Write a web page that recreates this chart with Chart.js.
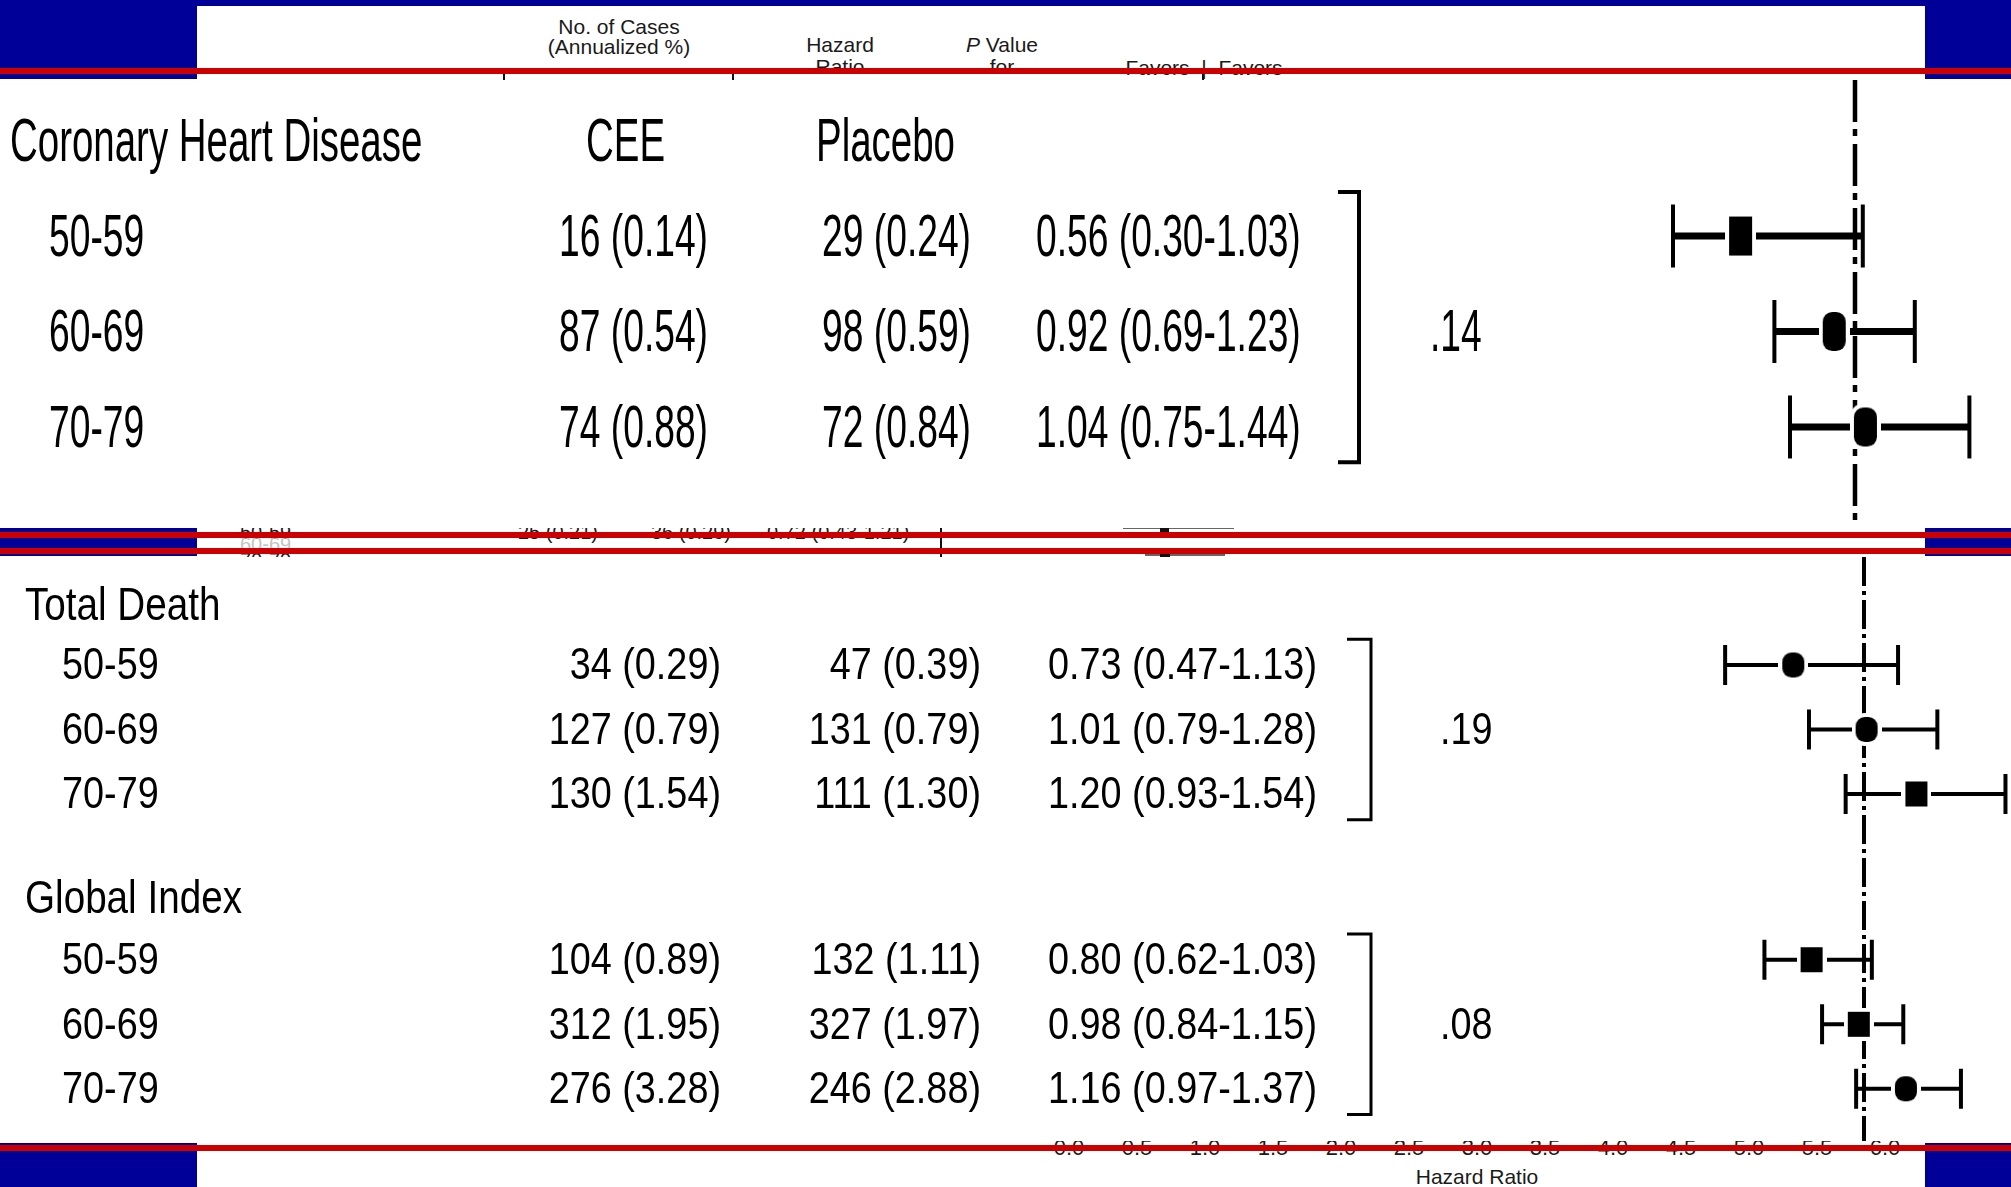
<!DOCTYPE html>
<html>
<head>
<meta charset="utf-8">
<title>Outcomes by Age Group: CEE vs Placebo</title>
<script src="https://cdn.jsdelivr.net/npm/chart.js@4.4.1/dist/chart.umd.min.js"></script>
<style>
  html, body { margin: 0; padding: 0; background: #fff; }
  #page { position: relative; width: 2011px; height: 1187px; overflow: hidden; background: #fff;
          font-family: "Liberation Sans", Arial, sans-serif; }
  .t { position: absolute; white-space: nowrap; line-height: 1; color: #1a1a1a; font-size: 21px; }
  .c { transform: translate(-50%, -50%); }
  .l { transform: translate(0, -50%); }
  .r { transform: translate(-100%, -50%); }
  .g { color: #c4c4c4; }
  .mark { position: absolute; background: #111; }
  canvas { position: absolute; left: 0; background: #fff; }
  .blk { position: absolute; background: #000099; }
  .red { position: absolute; left: 0; width: 2011px; height: 6px; background: #cc0000; }
</style>
</head>
<body>
<div id="page">
  <!-- column headings of the underlying table -->
  <div class="t c" style="left:619px;top:26px">No. of Cases</div>
  <div class="t c" style="left:619px;top:46px">(Annualized %)</div>
  <div class="t c" style="left:840px;top:44px">Hazard</div>
  <div class="t c" style="left:840px;top:66px">Ratio</div>
  <div class="t c" style="left:1002px;top:44px"><i>P</i> Value</div>
  <div class="t c" style="left:1002px;top:66px">for</div>
  <div class="t c" style="left:1204px;top:67px">Favors&nbsp; |&nbsp; Favors</div>
  <div class="t l g" style="left:224px;top:87px">Age Group, y</div>
  <div class="t c g" style="left:840px;top:87px">(95% CI)</div>
  <div class="t c g" style="left:1002px;top:87px">Interaction</div>
  <div class="t c g" style="left:1204px;top:87px">Estrogen&nbsp; |&nbsp; Placebo</div>
  <div class="mark" style="left:503px;top:74px;width:2px;height:7px"></div>
  <div class="mark" style="left:732px;top:74px;width:2px;height:7px"></div>
  <div class="mark" style="left:1202px;top:74px;width:2px;height:7px"></div>

  <!-- rows of the underlying table seen between the panels -->
  <div class="t l" style="left:240px;top:532px;font-size:20px">50-59</div>
  <div class="t r" style="left:598px;top:532px;font-size:20px">25 (0.21)</div>
  <div class="t r" style="left:731px;top:532px;font-size:20px">36 (0.29)</div>
  <div class="t l" style="left:767px;top:532px;font-size:20px">0.72 (0.43-1.21)</div>
  <div class="t l g" style="left:240px;top:544px;font-size:20px">60-69</div>
  <div class="t l" style="left:240px;top:560px;font-size:20px">70-79</div>
  <div class="mark" style="left:940px;top:526px;width:2px;height:31px"></div>
  <div class="mark" style="left:1123px;top:527px;width:111px;height:2px;background:#666"></div>
  <div class="mark" style="left:1160px;top:527px;width:9px;height:6px"></div>
  <div class="mark" style="left:1145px;top:554px;width:80px;height:2px;background:#666"></div>
  <div class="mark" style="left:1160px;top:554px;width:10px;height:4px"></div>

  <div class="t c" style="left:1477px;top:1176px;font-size:21px">Hazard Ratio</div>

  <canvas id="chdChart" width="2011" height="448" style="top:80px"></canvas>
  <canvas id="ageChart" width="2011" height="584" style="top:557px"></canvas>

  <!-- slide frame -->
  <div class="blk" style="left:0;top:0;width:2011px;height:6px"></div>
  <div class="blk" style="left:0;top:0;width:197px;height:79px"></div>
  <div class="blk" style="left:1925px;top:0;width:86px;height:79px"></div>
  <div class="red" style="top:68px"></div>
  <div class="blk" style="left:0;top:528px;width:197px;height:28px"></div>
  <div class="blk" style="left:1925px;top:528px;width:86px;height:28px"></div>
  <div class="red" style="top:532px"></div>
  <div class="red" style="top:548px"></div>
  <div class="blk" style="left:0;top:1143px;width:197px;height:44px"></div>
  <div class="blk" style="left:1925px;top:1143px;width:86px;height:44px"></div>
  <div class="red" style="top:1145px"></div>
</div>

<script>
// ---- data ----
const ageGroups = ['50-59', '60-69', '70-79'];

// Coronary heart disease
const chdCeeCases = [16, 87, 74];
const chdCeeRate = [0.14, 0.54, 0.88];
const chdPlaceboCases = [29, 98, 72];
const chdPlaceboRate = [0.24, 0.59, 0.84];
const chdHR = [0.56, 0.92, 1.04];
const chdLow = [0.30, 0.69, 0.75];
const chdHigh = [1.03, 1.23, 1.44];
const chdP = '.14';

// Total death
const deathCeeCases = [34, 127, 130];
const deathCeeRate = [0.29, 0.79, 1.54];
const deathPlaceboCases = [47, 131, 111];
const deathPlaceboRate = [0.39, 0.79, 1.30];
const deathHR = [0.73, 1.01, 1.20];
const deathLow = [0.47, 0.79, 0.93];
const deathHigh = [1.13, 1.28, 1.54];
const deathP = '.19';

// Global index
const globalCeeCases = [104, 312, 276];
const globalCeeRate = [0.89, 1.95, 3.28];
const globalPlaceboCases = [132, 327, 246];
const globalPlaceboRate = [1.11, 1.97, 2.88];
const globalHR = [0.80, 0.98, 1.16];
const globalLow = [0.62, 0.84, 0.97];
const globalHigh = [1.03, 1.15, 1.37];
const globalP = '.08';

// tick labels of the small hazard-ratio axis along the bottom edge
const hazardTicks = ['0.0', '0.5', '1.0', '1.5', '2.0', '2.5', '3.0', '3.5', '4.0', '4.5', '5.0', '5.5', '6.0'];

// ---- helpers ----
const FONT = '"Liberation Sans", Arial, sans-serif';

function putText(ctx, str, x, y, size, sx, align) {
  ctx.save();
  ctx.font = size + 'px ' + FONT;
  ctx.textAlign = align;
  ctx.textBaseline = 'middle';
  ctx.fillStyle = '#000';
  ctx.translate(x, y);
  ctx.scale(sx, 1);
  ctx.fillText(str, 0, 0);
  ctx.restore();
}

// point estimate marker with a white halo that opens a gap in the CI line
function markerImage(w, h, shape, pad) {
  const c = document.createElement('canvas');
  c.width = w + 2 * pad;
  c.height = h + 2 * pad;
  const g = c.getContext('2d');
  const r = shape === 'round' ? Math.min(w, h) * 0.42 : 0;
  g.fillStyle = '#fff';
  g.beginPath();
  g.roundRect(0, 0, c.width, c.height, r ? r + pad : 0);
  g.fill();
  g.fillStyle = '#000';
  g.beginPath();
  g.roundRect(pad, pad, w, h, r);
  g.fill();
  return c;
}

function tablePlugin(panel) {
  return {
    id: 'tableText',
    afterDraw(chart) {
      const ctx = chart.ctx;
      const ys = chart.scales.y;
      const c = panel.cols;
      const dy = panel.textDy;
      panel.groups.forEach(g => {
        const ty = ys.getPixelForValue(g.titleRow) + dy;
        putText(ctx, g.title, c.title, ty, panel.titleSize, panel.sx, 'left');
        if (g.heads) {
          putText(ctx, 'CEE', c.headCee, ty, panel.titleSize, panel.sx, 'left');
          putText(ctx, 'Placebo', c.headPlacebo, ty, panel.titleSize, panel.sx, 'left');
        }
        g.rows.forEach((row, i) => {
          const y = ys.getPixelForValue(row) + dy;
          putText(ctx, ageGroups[i], c.age, y, panel.rowSize, panel.sx, 'left');
          putText(ctx, g.ceeCases[i] + ' (' + g.ceeRate[i].toFixed(2) + ')', c.cee, y, panel.rowSize, panel.sx, 'right');
          putText(ctx, g.placeboCases[i] + ' (' + g.placeboRate[i].toFixed(2) + ')', c.placebo, y, panel.rowSize, panel.sx, 'right');
          putText(ctx, g.hr[i].toFixed(2) + ' (' + g.low[i].toFixed(2) + '-' + g.high[i].toFixed(2) + ')',
                  c.hr, y, panel.rowSize, panel.sx, 'left');
        });
        // bracket joining the three age groups, with the interaction P value
        const yT = ys.getPixelForValue(g.rows[0] - panel.bracketPad[0]);
        const yB = ys.getPixelForValue(g.rows[g.rows.length - 1] + panel.bracketPad[1]);
        ctx.save();
        ctx.strokeStyle = '#000';
        ctx.lineWidth = panel.bracketWidth;
        ctx.lineJoin = 'miter';
        ctx.beginPath();
        ctx.moveTo(c.bracketL, yT);
        ctx.lineTo(c.bracketX, yT);
        ctx.lineTo(c.bracketX, yB);
        ctx.lineTo(c.bracketL, yB);
        ctx.stroke();
        ctx.restore();
        putText(ctx, g.p, c.p, ys.getPixelForValue(g.rows[1]) + dy, panel.rowSize, panel.sx, 'left');
      });
    }
  };
}

function buildPanel(canvasId, panel) {
  const datasets = [];
  // no-effect line at hazard ratio 1
  datasets.push({
    data: [{ x: 1, y: panel.yMin }, { x: 1, y: panel.yMax }],
    showLine: true, borderColor: '#000', borderWidth: panel.refWidth,
    borderDash: panel.refDash, pointRadius: 0, order: 3
  });
  // confidence intervals with end caps
  panel.groups.forEach(g => g.rows.forEach((row, i) => {
    datasets.push({
      data: [{ x: g.low[i], y: row }, { x: g.high[i], y: row }],
      showLine: true, borderColor: '#000', borderWidth: panel.barWidth,
      pointStyle: 'line', pointRotation: 90, pointRadius: panel.capHalf,
      pointBorderWidth: panel.capWidth, pointBorderColor: '#000', pointBackgroundColor: '#000',
      order: 2
    });
  }));
  // point estimates
  const pts = [], styles = [];
  panel.groups.forEach(g => g.rows.forEach((row, i) => {
    pts.push({ x: g.hr[i], y: row });
    styles.push(markerImage(panel.markerW, panel.markerH, g.shapes[i], 4));
  }));
  datasets.push({ data: pts, showLine: false, pointStyle: styles, pointRadius: 12, order: 1 });

  return new Chart(document.getElementById(canvasId), {
    type: 'scatter',
    data: { datasets },
    options: {
      responsive: false,
      animation: false,
      devicePixelRatio: 1,
      events: [],
      layout: { padding: 0, autoPadding: false },
      scales: {
        x: { type: 'linear', min: panel.xMin, max: panel.xMax, display: false },
        y: { type: 'linear', min: panel.yMin, max: panel.yMax, reverse: true, display: false }
      },
      plugins: { legend: { display: false }, tooltip: { enabled: false } }
    },
    plugins: [tablePlugin(panel)]
  });
}

// ---- enlarged coronary heart disease panel ----
buildPanel('chdChart', {
  xMin: -6.1346, xMax: 1.6, yMin: -1.634, yMax: 3.058,
  refWidth: 4.5, refDash: [42, 7, 7, 8],
  barWidth: 7, capWidth: 4, capHalf: 31.5,
  markerW: 23, markerH: 39,
  titleSize: 62, rowSize: 60, sx: 0.62, textDy: 3,
  bracketPad: [0.46, 0.37], bracketWidth: 4,
  cols: { title: 10, headCee: 586, headPlacebo: 816, age: 49, cee: 708, placebo: 971, hr: 1036, p: 1430, bracketL: 1338, bracketX: 1359 },
  groups: [{
    title: 'Coronary Heart Disease', titleRow: -1, heads: true, rows: [0, 1, 2],
    ceeCases: chdCeeCases, ceeRate: chdCeeRate, placeboCases: chdPlaceboCases, placeboRate: chdPlaceboRate,
    hr: chdHR, low: chdLow, high: chdHigh, p: chdP, shapes: ['square', 'round', 'round']
  }]
});

// ---- total death and global index panel ----
buildPanel('ageChart', {
  xMin: -6.1145, xMax: 1.5611, yMin: -0.674, yMax: 8.38,
  refWidth: 4, refDash: [29, 5, 4, 5],
  barWidth: 4, capWidth: 4, capHalf: 20,
  markerW: 22, markerH: 25,
  titleSize: 46, rowSize: 45, sx: 0.84, textDy: 2,
  bracketPad: [0.4, 0.4], bracketWidth: 3,
  cols: { title: 25, age: 62, cee: 721, placebo: 981, hr: 1048, p: 1440, bracketL: 1347, bracketX: 1371 },
  groups: [{
    title: 'Total Death', titleRow: 0.08, rows: [1, 2, 3],
    ceeCases: deathCeeCases, ceeRate: deathCeeRate, placeboCases: deathPlaceboCases, placeboRate: deathPlaceboRate,
    hr: deathHR, low: deathLow, high: deathHigh, p: deathP, shapes: ['round', 'round', 'square']
  }, {
    title: 'Global Index', titleRow: 4.62, rows: [5.57, 6.57, 7.57],
    ceeCases: globalCeeCases, ceeRate: globalCeeRate, placeboCases: globalPlaceboCases, placeboRate: globalPlaceboRate,
    hr: globalHR, low: globalLow, high: globalHigh, p: globalP, shapes: ['square', 'square', 'round']
  }]
});

// tick labels, partly hidden under the bottom rule
const page = document.getElementById('page');
const firstCanvas = document.getElementById('chdChart');
hazardTicks.forEach((s, i) => {
  const d = document.createElement('div');
  d.className = 't c';
  d.style.left = (1069 + i * 68) + 'px';
  d.style.top = '1148px';
  d.style.fontSize = '22px';
  d.textContent = s;
  page.insertBefore(d, firstCanvas);
});
</script>
</body>
</html>
